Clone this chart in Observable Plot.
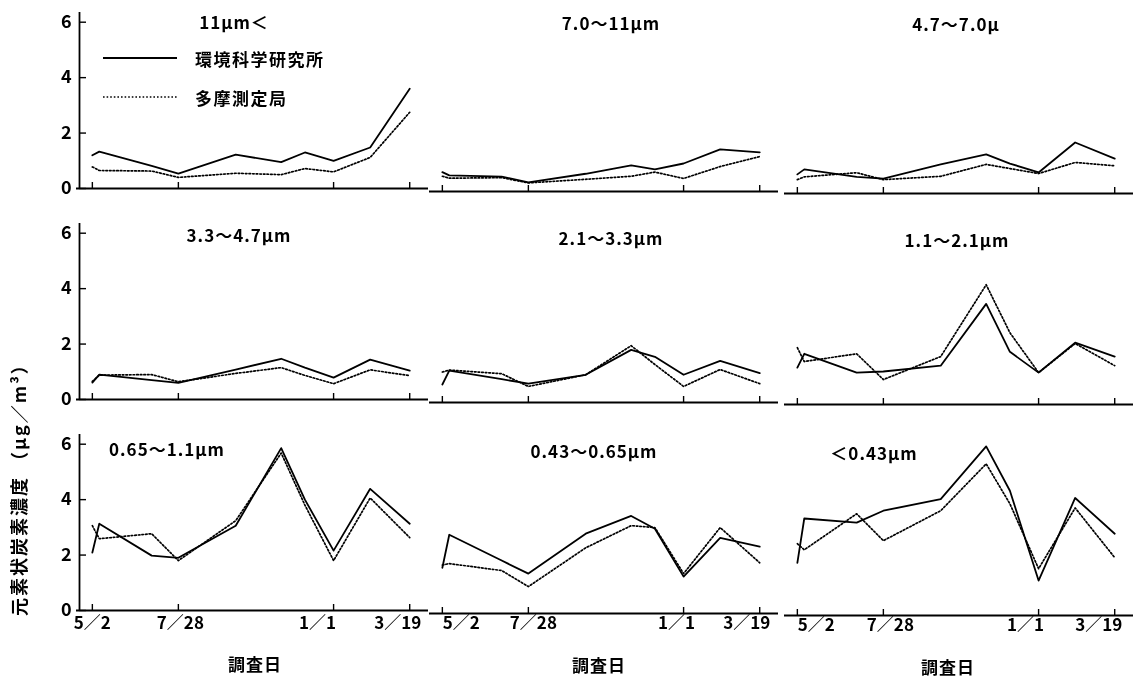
<!DOCTYPE html>
<html>
<head>
<meta charset="utf-8">
<script src="https://cdn.jsdelivr.net/npm/d3@7"></script>
<script src="https://cdn.jsdelivr.net/npm/@observablehq/plot@0.6"></script>
<style>
  body { margin: 0; background: #fff; }
  #chart { position: relative; width: 1140px; height: 677px; overflow: hidden; background: #fff;
           font-family: "Noto Sans CJK JP", "Noto Sans", sans-serif; color: #000; filter: grayscale(1); }
  .abs { position: absolute; white-space: nowrap; line-height: 1; }
  .title { font-size: 17px; font-weight: 700; letter-spacing: 1px; transform: translate(-50%, -50%); }
  .xlabel { font-size: 17px; font-weight: 700; letter-spacing: 1px; transform: translate(-50%, -50%); }
  .legtext { font-size: 17px; font-weight: 700; letter-spacing: 1.5px; transform: translateY(-50%); }
  .ytitle { font-size: 18px; font-weight: 700; letter-spacing: 2px; transform: rotate(-90deg); transform-origin: 0 0; line-height: 24px; }
  svg.plot-panel { position: absolute; }
</style>
</head>
<body>
<div id="chart"></div>
<script>
// ---------------- data ----------------
const sampleDates = ["1990-05-02","1990-05-09","1990-07-01","1990-07-28","1990-09-24",
                     "1990-11-09","1990-12-03","1991-01-01","1991-02-07","1991-03-19"];
const tickDates = ["1990-05-02","1990-07-28","1991-01-01","1991-03-19"];
const tickLabels = ["5／2","7／28","1／1","3／19"];
const yTicks = [0, 2, 4, 6];
const sizeClasses = ["11μm＜","7.0～11μm","4.7～7.0μ",
                     "3.3～4.7μm","2.1～3.3μm","1.1～2.1μm",
                     "0.65～1.1μm","0.43～0.65μm","＜0.43μm"];
const seriesNames = ["環境科学研究所", "多摩測定局"];
const xTitle = "調査日";
const yTitle = "元素状炭素濃度 （μg／m³）";

// 環境科学研究所 (solid)
const kankyoValues = [
  [1.20, 1.33, 0.82, 0.54, 1.22, 0.95, 1.30, 1.00, 1.48, 3.60],
  [0.70, 0.58, 0.54, 0.33, 0.64, 0.94, 0.80, 1.01, 1.52, 1.41],
  [0.69, 0.87, 0.60, 0.54, 1.05, 1.41, 1.08, 0.76, 1.84, 1.26],
  [0.61, 0.90, 0.70, 0.60, 1.08, 1.47, 1.15, 0.79, 1.44, 1.04],
  [0.65, 1.15, 0.84, 0.68, 1.00, 1.90, 1.65, 1.00, 1.50, 1.06],
  [1.33, 1.83, 1.15, 1.19, 1.40, 3.63, 1.90, 1.15, 2.23, 1.73],
  [2.09, 3.13, 1.98, 1.90, 3.06, 5.86, 4.00, 2.16, 4.39, 3.13],
  [1.65, 2.84, 1.91, 1.44, 2.88, 3.52, 3.06, 1.33, 2.73, 2.41],
  [1.90, 3.50, 3.35, 3.78, 4.20, 6.10, 4.50, 1.26, 4.24, 2.95]
];
// 多摩測定局 (dotted)
const tamaValues = [
  [0.78, 0.65, 0.63, 0.40, 0.55, 0.50, 0.72, 0.60, 1.12, 2.75],
  [0.55, 0.48, 0.50, 0.31, 0.44, 0.55, 0.70, 0.47, 0.90, 1.26],
  [0.50, 0.60, 0.75, 0.50, 0.62, 1.05, 0.90, 0.72, 1.12, 1.00],
  [0.65, 0.88, 0.90, 0.64, 0.94, 1.15, 0.87, 0.57, 1.07, 0.86],
  [1.10, 1.17, 1.04, 0.58, 1.00, 2.05, 1.37, 0.58, 1.19, 0.68],
  [2.05, 1.55, 1.83, 0.90, 1.73, 4.32, 2.59, 1.15, 2.20, 1.40],
  [3.06, 2.59, 2.77, 1.80, 3.24, 5.68, 3.80, 1.80, 4.06, 2.63],
  [1.75, 1.80, 1.55, 0.97, 2.37, 3.17, 3.10, 1.44, 3.10, 1.83],
  [2.59, 2.37, 3.67, 2.70, 3.78, 5.47, 4.03, 1.69, 3.88, 2.09]
];

// ---------------- layout ----------------
const parse = d3.utcParse("%Y-%m-%d");
const xDomain = [parse("1990-04-19"), parse("1991-04-07")];
const yDomain = [0, 6.35];
const colLeft = [79, 429, 784];
const colShift = [0, 3, 5];
const rowBase = [188, 399, 610];
const plotW = 349, plotH = 176;
const mL = 45, mR = 8, mT = 2, mB = 40;
const titlePos = [[234,21],[611,22],[956,23],[239,234],[611,237],[957,239],[167,448],[594,450],[874,452]];
const xTitlePos = [[255,663],[599,664],[948,666]];
const tickLabelDx = [[0, 2, -16, -12], [19, 5, -7, -13], [19, 7, -13, -16]];
const tickLabelDy = [18, 15, 15];
const dotDash = "1.6,2";

const chart = document.getElementById("chart");
const tickDateObjs = tickDates.map(parse);
const fontStyle = {
  background: "transparent", overflow: "visible",
  fontFamily: "'Noto Sans CJK JP', 'Noto Sans', sans-serif",
  fontSize: "17px", fontWeight: "bold", color: "#000"
};

sizeClasses.forEach((name, i) => {
  const r = Math.floor(i / 3), c = i % 3;
  const solid = sampleDates.map((d, j) => ({date: parse(d), value: kankyoValues[i][j]}));
  const dotted = sampleDates.map((d, j) => ({date: parse(d), value: tamaValues[i][j]}));
  const marks = [
    Plot.ruleY([0], {stroke: "#000", strokeWidth: 1.8, insetLeft: c === 0 ? -3 : 0}),
    Plot.ruleX(tickDateObjs, {stroke: "#000", strokeWidth: 1.4, insetTop: plotH - 6})
  ];
  if (c === 0) {
    marks.push(
      Plot.ruleX([xDomain[0]], {stroke: "#000", strokeWidth: 1.8}),
      Plot.ruleY(yTicks, {stroke: "#000", strokeWidth: 1.4, insetRight: plotW - 7}),
      Plot.axisY({ticks: yTicks, tickFormat: d3.format("d"), tickSize: 0, tickPadding: 8,
                  label: null, anchor: "left", fontSize: 18})
    );
  }
  if (r === 2) {
    tickDateObjs.forEach((d, k) => {
      marks.push(Plot.text([d], {x: v => v, text: () => tickLabels[k], frameAnchor: "bottom",
                                 dx: tickLabelDx[c][k], dy: tickLabelDy[c], fontSize: 17, fontWeight: "bold",
                                 fill: "#000"}));
    });
  }
  marks.push(
    Plot.lineY(dotted, {x: "date", y: "value", stroke: "#000", strokeWidth: 1.7, strokeDasharray: dotDash}),
    Plot.lineY(solid, {x: "date", y: "value", stroke: "#000", strokeWidth: 1.8})
  );
  const svg = Plot.plot({
    width: plotW + mL + mR, height: plotH + mT + mB,
    marginLeft: mL, marginRight: mR, marginTop: mT, marginBottom: mB,
    x: {type: "utc", domain: xDomain, axis: null},
    y: {domain: yDomain, axis: null},
    style: fontStyle,
    marks
  });
  svg.classList.add("plot-panel");
  svg.style.left = (colLeft[c] - mL) + "px";
  svg.style.top = (rowBase[r] + colShift[c] - plotH - mT) + "px";
  chart.appendChild(svg);

  const t = document.createElement("div");
  t.className = "abs title";
  t.textContent = name;
  t.style.left = titlePos[i][0] + "px";
  t.style.top = titlePos[i][1] + "px";
  chart.appendChild(t);
});

// x titles
xTitlePos.forEach(([x, y]) => {
  const d = document.createElement("div");
  d.className = "abs xlabel";
  d.textContent = xTitle;
  d.style.left = x + "px"; d.style.top = y + "px";
  chart.appendChild(d);
});

// y title
const yt = document.createElement("div");
yt.className = "abs ytitle";
yt.textContent = yTitle;
yt.style.left = "6px"; yt.style.top = "616px";
chart.appendChild(yt);

// legend
const legendY = [58, 97];
seriesNames.forEach((name, k) => {
  const ns = "http://www.w3.org/2000/svg";
  const s = document.createElementNS(ns, "svg");
  s.setAttribute("width", 76); s.setAttribute("height", 6);
  s.style.position = "absolute"; s.style.left = "102px"; s.style.top = (legendY[k] - 3) + "px";
  const ln = document.createElementNS(ns, "line");
  ln.setAttribute("x1", 1); ln.setAttribute("x2", 75); ln.setAttribute("y1", 3); ln.setAttribute("y2", 3);
  ln.setAttribute("stroke", "#000");
  ln.setAttribute("stroke-width", k === 0 ? 1.8 : 1.7);
  if (k === 1) ln.setAttribute("stroke-dasharray", dotDash);
  s.appendChild(ln);
  chart.appendChild(s);
  const d = document.createElement("div");
  d.className = "abs legtext";
  d.textContent = name;
  d.style.left = "195px"; d.style.top = legendY[k] + "px";
  chart.appendChild(d);
});
</script>
</body>
</html>
